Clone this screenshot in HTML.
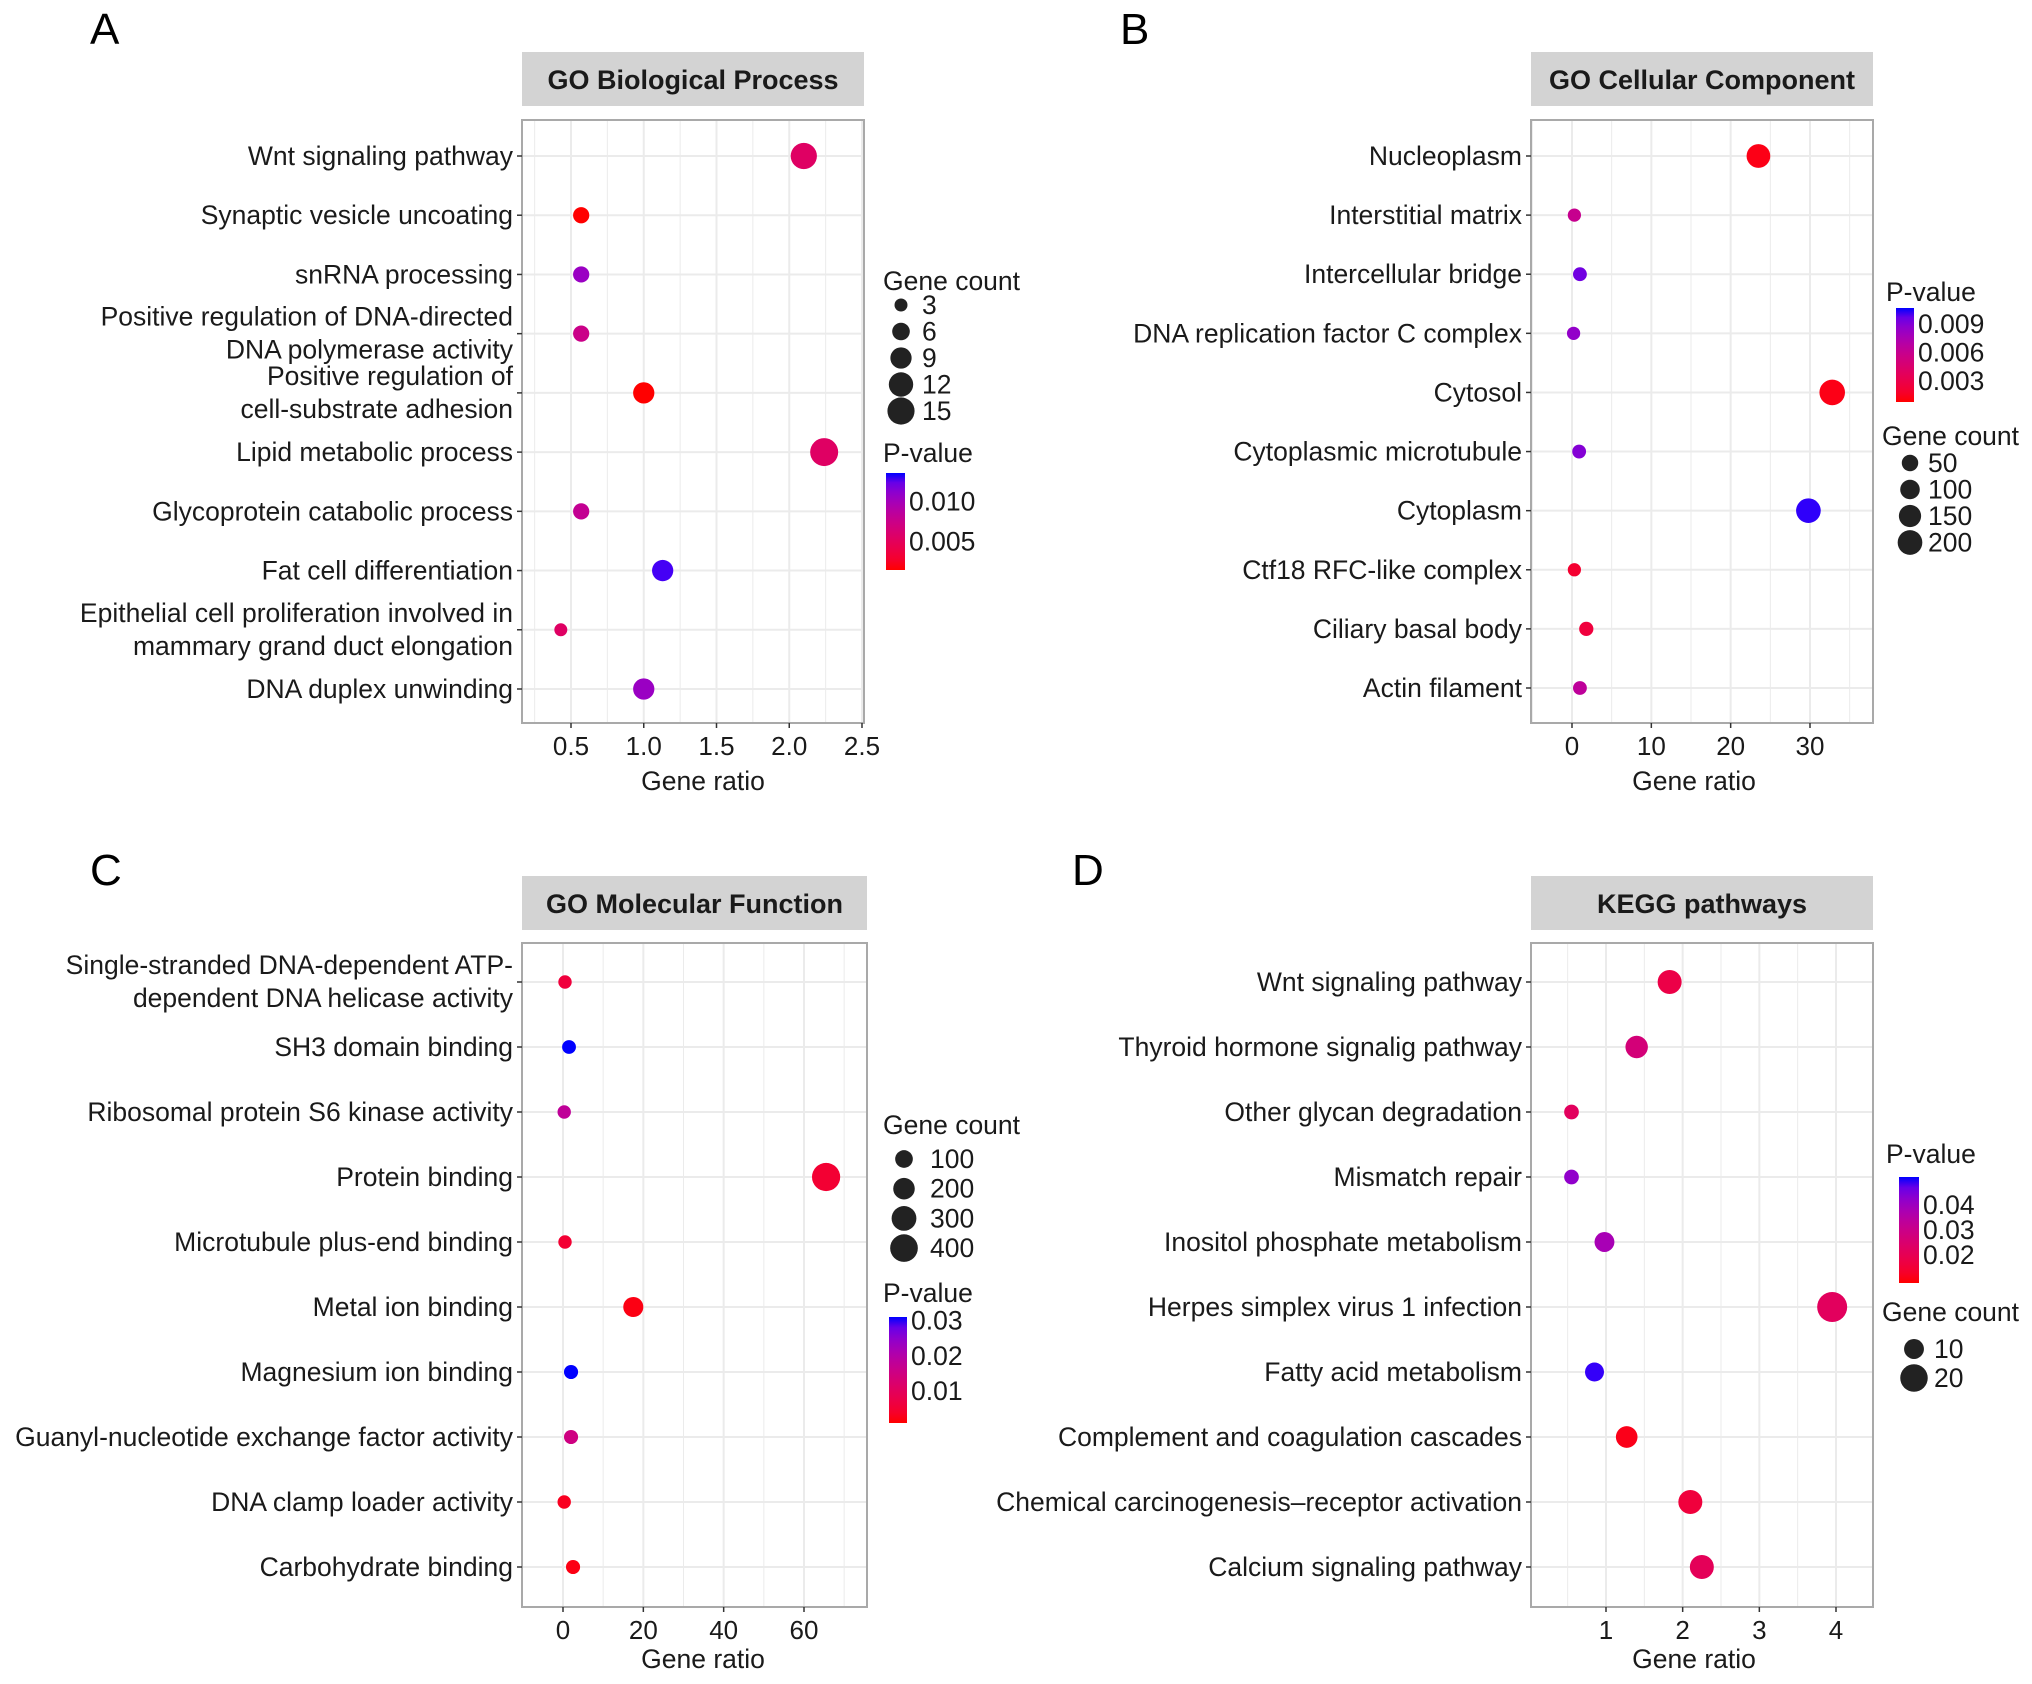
<!DOCTYPE html>
<html><head><meta charset="utf-8">
<style>
html,body{margin:0;padding:0;background:#fff;}
svg{display:block;font-family:"Liberation Sans",Arial,sans-serif;}
</style></head>
<body>
<svg id="fig" width="2032" height="1684" viewBox="0 0 2032 1684" xmlns="http://www.w3.org/2000/svg"></svg>
<script>
// ---------- Panel A data ----------
const aCats = ["Wnt signaling pathway","Synaptic vesicle uncoating","snRNA processing","Positive regulation of DNA-directed|DNA polymerase activity","Positive regulation of |cell-substrate adhesion","Lipid metabolic process","Glycoprotein catabolic process","Fat cell differentiation","Epithelial cell proliferation involved in|mammary grand duct elongation","DNA duplex unwinding"];
const aRatio = [2.1,0.57,0.57,0.57,1.0,2.24,0.57,1.13,0.43,1.0];
const aCount = [14,5,5,5,9,16,5,9,3,9];
const aPval = [0.0055,0.0015,0.0105,0.0075,0.0015,0.0055,0.008,0.013,0.0055,0.0105];
const aXTicks = [0.5,1.0,1.5,2.0,2.5];
const aXTickLabels = ["0.5","1.0","1.5","2.0","2.5"];
const aSizeLegend = [3,6,9,12,15];
const aPTicks = [0.010,0.005];
const aPTickLabels = ["0.010","0.005"];
// ---------- Panel B data ----------
const bCats = ["Nucleoplasm","Interstitial matrix","Intercellular bridge","DNA replication factor C complex","Cytosol","Cytoplasmic microtubule","Cytoplasm","Ctf18 RFC-like complex","Ciliary basal body","Actin filament"];
const bRatio = [23.5,0.3,1.0,0.2,32.8,0.9,29.8,0.3,1.8,1.0];
const bCount = [180,8,15,8,220,15,200,8,20,15];
const bPval = [0.0012,0.006,0.0095,0.0085,0.0012,0.009,0.0105,0.002,0.0025,0.0065];
const bXTicks = [0,10,20,30];
const bXTickLabels = ["0","10","20","30"];
const bSizeLegend = [50,100,150,200];
const bPTicks = [0.009,0.006,0.003];
const bPTickLabels = ["0.009","0.006","0.003"];
// ---------- Panel C data ----------
const cCats = ["Single-stranded DNA-dependent ATP-|dependent DNA helicase activity","SH3 domain binding","Ribosomal protein S6 kinase activity","Protein binding","Microtubule plus-end binding","Metal ion binding","Magnesium ion binding","Guanyl-nucleotide exchange factor activity","DNA clamp loader activity","Carbohydrate binding"];
const cRatio = [0.5,1.5,0.3,65.5,0.5,17.5,2.0,2.0,0.3,2.5];
const cCount = [12,20,12,420,12,160,25,25,12,25];
const cPval = [0.006,0.031,0.018,0.005,0.005,0.002,0.031,0.015,0.003,0.002];
const cXTicks = [0,20,40,60];
const cXTickLabels = ["0","20","40","60"];
const cSizeLegend = [100,200,300,400];
const cPTicks = [0.03,0.02,0.01];
const cPTickLabels = ["0.03","0.02","0.01"];
// ---------- Panel D data ----------
const dCats = ["Wnt signaling pathway","Thyroid hormone signalig pathway","Other glycan degradation","Mismatch repair","Inositol phosphate metabolism","Herpes simplex virus 1 infection","Fatty acid metabolism","Complement and coagulation cascades","Chemical carcinogenesis\u2013receptor activation","Calcium signaling pathway"];
const dRatio = [1.83,1.4,0.55,0.55,0.98,3.95,0.85,1.27,2.1,2.25];
const dCount = [15,13,5,5,10,24,9,12,15,15];
const dPval = [0.018,0.027,0.022,0.042,0.038,0.022,0.05,0.011,0.016,0.021];
const dXTicks = [1,2,3,4];
const dXTickLabels = ["1","2","3","4"];
const dSizeLegend = [10,20];
const dPTicks = [0.04,0.03,0.02];
const dPTickLabels = ["0.04","0.03","0.02"];

const NS = "http://www.w3.org/2000/svg";
const svg = document.getElementById("fig");
const FS = 26.5;
function mk(tag, attrs, parent){
  const e = document.createElementNS(NS, tag);
  for (const k in attrs) e.setAttribute(k, attrs[k]);
  (parent||svg).appendChild(e);
  return e;
}
function s2l(c){c/=255;return c<=0.04045?c/12.92:Math.pow((c+0.055)/1.055,2.4);}
function l2s(c){c=c<=0.0031308?12.92*c:1.055*Math.pow(c,1/2.4)-0.055;return Math.max(0,Math.min(255,Math.round(c*255)));}
function toLab(r,g,b){r=s2l(r);g=s2l(g);b=s2l(b);
  let x=(r*0.4124+g*0.3576+b*0.1805)/0.95047,y=r*0.2126+g*0.7152+b*0.0722,z=(r*0.0193+g*0.1192+b*0.9505)/1.08883;
  const f=t=>t>0.008856?Math.cbrt(t):7.787*t+16/116;
  x=f(x);y=f(y);z=f(z);return [116*y-16,500*(x-y),200*(y-z)];}
function fromLab(L,a,bb){let y=(L+16)/116,x=a/500+y,z=y-bb/200;
  const fi=t=>t*t*t>0.008856?t*t*t:(t-16/116)/7.787;
  x=fi(x)*0.95047;y=fi(y);z=fi(z)*1.08883;
  const r=x*3.2406+y*-1.5372+z*-0.4986,g=x*-0.9689+y*1.8758+z*0.0415,b=x*0.0557+y*-0.2040+z*1.0570;
  return "rgb("+l2s(r)+","+l2s(g)+","+l2s(b)+")";}
const LR=toLab(255,0,0), LB=toLab(0,0,255);
function grad(t){t=Math.max(0,Math.min(1,t));return fromLab(LR[0]+(LB[0]-LR[0])*t,LR[1]+(LB[1]-LR[1])*t,LR[2]+(LB[2]-LR[2])*t);}

function text(str,x,y,opts,name){
  const t = mk("text",Object.assign({x:x,y:y,"font-size":FS,fill:"#1a1a1a"},opts||{}));
  t.textContent = str;
  
  
  return t;
}

function panel(cfg){
  const g = mk("g",{});
  
  
  const L=cfg.left,R=cfg.right,T=cfg.top,B=cfg.bottom;
  const lt = text(cfg.letter,cfg.letterX,cfg.letterY,{"font-size":44,fill:"#000"},'panel-letter');
  g.appendChild(lt);
  const st = mk("rect",{x:L,y:cfg.stripTop,width:R-L,height:cfg.stripH,fill:"#d3d3d3"},g);
  
  
  const stt = text(cfg.title,(L+R)/2,cfg.stripTop+cfg.stripH/2+10,{"font-size":27,"font-weight":"bold","text-anchor":"middle"},'facet-strip-title');
  g.appendChild(stt);
  const xs = v => cfg.x0px + (v-cfg.x0)*(cfg.x1px-cfg.x0px)/(cfg.x1-cfg.x0);
  const n = cfg.cats.length;
  const ys = i => cfg.y0px + i*(cfg.ylast-cfg.y0px)/(n-1);
  const step = cfg.xTicks[1]-cfg.xTicks[0];
  for (let v=cfg.xTicks[0]-step*2; v<=cfg.xTicks[cfg.xTicks.length-1]+step*2; v+=step/2){
    const px = xs(v); if(px<L+1||px>R-1) continue;
    const major = cfg.xTicks.some(t=>Math.abs(t-v)<1e-9);
    const ln = mk("line",{x1:px,x2:px,y1:T,y2:B,stroke:"#ebebeb","stroke-width":major?2:1},g);
    
    
  }
  for (let i=0;i<n;i++){
    const ln = mk("line",{x1:L,x2:R,y1:ys(i),y2:ys(i),stroke:"#ebebeb","stroke-width":2},g);
    
    
  }
  const bd = mk("rect",{x:L,y:T,width:R-L,height:B-T,fill:"none",stroke:"#a9a9a9","stroke-width":2},g);
  
  
  for (let i=0;i<n;i++){
    const parts = cfg.cats[i].split("|");
    const y = ys(i);
    if(parts.length===1){
      const t=text(parts[0],L-9,y+9,{"text-anchor":"end"},'y-tick-label'); g.appendChild(t);
    } else {
      const t1=text(parts[0],L-9,y-8,{"text-anchor":"end"},'y-tick-label'); g.appendChild(t1);
      const t2=text(parts[1],L-9,y+25,{"text-anchor":"end"},'y-tick-label'); g.appendChild(t2);
    }
    const tk = mk("line",{x1:L-5,x2:L,y1:y,y2:y,stroke:"#333","stroke-width":1.5},g);
    
    
  }
  cfg.xTicks.forEach((v,k)=>{
    const px=xs(v);
    const tk = mk("line",{x1:px,x2:px,y1:B,y2:B+5,stroke:"#333","stroke-width":1.5},g);
    
    
    const t=text(cfg.xTickLabels[k],px,B+32,{"text-anchor":"middle","font-size":26},'x-tick-label'); g.appendChild(t);
  });
  const xt=text("Gene ratio",cfg.xTitleX,cfg.xTitleY,{"text-anchor":"middle","font-size":FS},'x-axis-title'); g.appendChild(xt);
  const rr = c => Math.sqrt(cfg.r0*cfg.r0 + (cfg.r1*cfg.r1-cfg.r0*cfg.r0)*Math.max(0,(c-cfg.c0))/(cfg.c1-cfg.c0));
  const pc = p => (p-cfg.p0)/(cfg.p1-cfg.p0);
  for (let i=0;i<n;i++){
    const c = mk("circle",{cx:xs(cfg.ratio[i]),cy:ys(i),r:rr(cfg.count[i]),fill:grad(pc(cfg.pval[i]))},g);
    
    
  }
  const sg = cfg.sizeLeg;
  const gt = text("Gene count",sg.x,sg.titleY,{},'size-legend-title'); g.appendChild(gt);
  cfg.sizeVals.forEach((v,k)=>{
    const y = sg.y0 + k*sg.dy;
    const c = mk("circle",{cx:sg.dotX,cy:y,r:rr(v),fill:"#222"},g);
    
    
    const t=text(String(v),sg.labX,y+9,{},'size-legend-label'); g.appendChild(t);
  });
  const cb = cfg.colLeg;
  const ct = text("P-value",cb.x,cb.titleY,{},'color-legend-title'); g.appendChild(ct);
  const id = "gr"+cfg.letter;
  const lg = mk("linearGradient",{id:id,x1:0,y1:1,x2:0,y2:0},g);
  for (let k=0;k<=10;k++){ mk("stop",{offset:k/10,"stop-color":grad(k/10)},lg); }
  const bar = mk("rect",{x:cb.barX,y:cb.barTop,width:cb.barW,height:cb.barBot-cb.barTop,fill:"url(#"+id+")"},g);
  
  
  const pyv = p => cb.barBot - (cb.barBot-cb.barTop)*pc(p);
  cfg.pTicks.forEach((p,k)=>{
    const y=pyv(p);
    const t=text(cfg.pTickLabels[k],cb.barX+cb.barW+4,y+9,{},'color-legend-label'); g.appendChild(t);
  });
}

panel({name:"panel-a-go-bp",letter:"A",letterX:90,letterY:44,title:"GO Biological Process",
  left:522,right:864,top:120,bottom:723,stripTop:52,stripH:54,
  cats:aCats,ratio:aRatio,count:aCount,pval:aPval,xTicks:aXTicks,xTickLabels:aXTickLabels,
  x0:0.5,x1:2.5,x0px:571,x1px:862,y0px:156,ylast:689,xTitleX:703,xTitleY:790,
  r0:5.5,r1:14,c0:2,c1:16,p0:0.0015,p1:0.0135,
  sizeVals:aSizeLegend,sizeLeg:{x:883,titleY:290,y0:305,dy:26.5,dotX:901,labX:922},
  pTicks:aPTicks,pTickLabels:aPTickLabels,
  colLeg:{x:883,titleY:462,barX:886,barW:19,barTop:473,barBot:570}});
panel({name:"panel-b-go-cc",letter:"B",letterX:1120,letterY:44,title:"GO Cellular Component",
  left:1531,right:1873,top:120,bottom:723,stripTop:52,stripH:54,
  cats:bCats,ratio:bRatio,count:bCount,pval:bPval,xTicks:bXTicks,xTickLabels:bXTickLabels,
  x0:0,x1:30,x0px:1572,x1px:1810,y0px:156,ylast:688,xTitleX:1694,xTitleY:790,
  r0:6.5,r1:13,c0:5,c1:230,p0:0.0008,p1:0.0107,
  sizeVals:bSizeLegend,sizeLeg:{x:1882,titleY:445,y0:463,dy:26.5,dotX:1910,labX:1928},
  pTicks:bPTicks,pTickLabels:bPTickLabels,
  colLeg:{x:1886,titleY:301,barX:1896,barW:18,barTop:308,barBot:402}});
panel({name:"panel-c-go-mf",letter:"C",letterX:90,letterY:885,title:"GO Molecular Function",
  left:522,right:867,top:943,bottom:1607,stripTop:876,stripH:54,
  cats:cCats,ratio:cRatio,count:cCount,pval:cPval,xTicks:cXTicks,xTickLabels:cXTickLabels,
  x0:0,x1:60,x0px:563,x1px:804,y0px:982,ylast:1567,xTitleX:703,xTitleY:1668,
  r0:6.5,r1:14.5,c0:5,c1:450,p0:0.001,p1:0.031,
  sizeVals:cSizeLegend,sizeLeg:{x:883,titleY:1134,y0:1159,dy:29.7,dotX:904,labX:930},
  pTicks:cPTicks,pTickLabels:cPTickLabels,
  colLeg:{x:883,titleY:1302,barX:889,barW:18,barTop:1317,barBot:1423}});
panel({name:"panel-d-kegg",letter:"D",letterX:1072,letterY:885,title:"KEGG pathways",
  left:1531,right:1873,top:943,bottom:1607,stripTop:876,stripH:54,
  cats:dCats,ratio:dRatio,count:dCount,pval:dPval,xTicks:dXTicks,xTickLabels:dXTickLabels,
  x0:1,x1:4,x0px:1606,x1px:1836,y0px:982,ylast:1567,xTitleX:1694,xTitleY:1668,
  r0:6,r1:15,c0:3,c1:24,p0:0.009,p1:0.051,
  sizeVals:dSizeLegend,sizeLeg:{x:1882,titleY:1321,y0:1349,dy:29,dotX:1914,labX:1934},
  pTicks:dPTicks,pTickLabels:dPTickLabels,
  colLeg:{x:1886,titleY:1163,barX:1899,barW:20,barTop:1177,barBot:1283}});
</script>
</body></html>
